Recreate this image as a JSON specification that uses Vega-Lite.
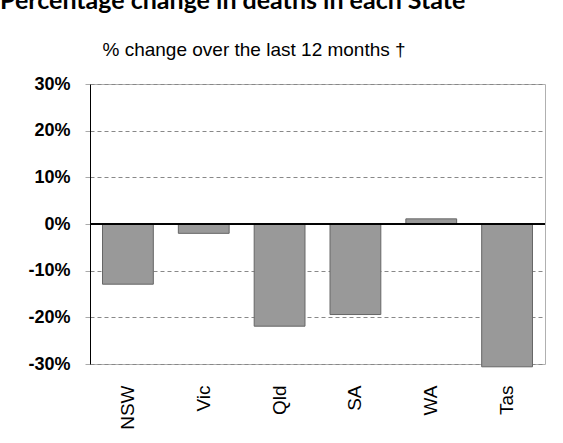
{
  "$schema": "https://vega.github.io/schema/vega-lite/v6.json",
  "autosize": "none",
  "width": 455,
  "height": 280,
  "padding": {"left": 90, "top": 84, "right": 18, "bottom": 79},
  "background": "white",
  "title": {
    "text": "Percentage change in  deaths in each State",
    "anchor": "start",
    "frame": "group",
    "dx": -90,
    "font": "Lato",
    "fontSize": 25,
    "fontWeight": "bold",
    "color": "black",
    "offset": 26
  },
  "data": {
    "values": [
      {"state": "NSW", "change": -12.9},
      {"state": "Vic", "change": -2.0},
      {"state": "Qld", "change": -21.9},
      {"state": "SA", "change": -19.4},
      {"state": "WA", "change": 1.1},
      {"state": "Tas", "change": -30.6}
    ]
  },
  "config": {
    "view": {"stroke": "#b0b0b0", "strokeWidth": 1},
    "axis": {"labelFont": "Liberation Sans", "titleFont": "Liberation Sans", "labelColor": "black", "titleColor": "black"}
  },
  "layer": [
    {
      "mark": {"type": "bar", "fill": "#999999", "stroke": "#666666", "strokeWidth": 1, "clip": false},
      "encoding": {
        "x": {
          "field": "state", "type": "nominal", "sort": null,
          "scale": {"paddingInner": 0.33, "paddingOuter": 0.165},
          "axis": {"orient": "bottom", "title": null, "domain": false, "ticks": false, "labelAngle": -90, "labelFontSize": 19, "labelPadding": 21, "grid": false}
        },
        "y": {
          "field": "change", "type": "quantitative",
          "scale": {"domain": [-30, 30], "nice": false, "zero": false},
          "axis": {
            "orient": "left", "title": null,
            "values": [-30, -20, -10, 0, 10, 20, 30],
            "labelExpr": "datum.value + '%'",
            "labelFontSize": 18, "labelFontWeight": "bold", "labelPadding": 15,
            "domainColor": "black", "domainWidth": 1,
            "tickColor": "#aaaaaa", "tickSize": 5,
            "grid": true, "gridColor": "#888888", "gridDash": [4, 3], "gridWidth": 1
          }
        }
      }
    },
    {
      "mark": {"type": "rule", "color": "black", "strokeWidth": 1},
      "encoding": {"y": {"datum": 0, "axis": null}}
    },
    {
      "mark": {"type": "bar", "fillOpacity": 0, "strokeOpacity": 0},
      "encoding": {
        "x": {
          "field": "state", "type": "nominal", "sort": null,
          "axis": {"orient": "top", "labels": false, "ticks": false, "domain": false, "grid": false,
            "title": "% change over the last 12 months \u2020", "titleFontSize": 19, "titleFontWeight": "normal",
            "titleAnchor": "start", "titleAlign": "left", "titleX": 12, "titleY": -29, "titleBaseline": "alphabetic"}
        },
        "y": {"field": "change", "type": "quantitative", "axis": null}
      }
    }
  ],
  "resolve": {"axis": {"x": "independent", "y": "independent"}}
}
